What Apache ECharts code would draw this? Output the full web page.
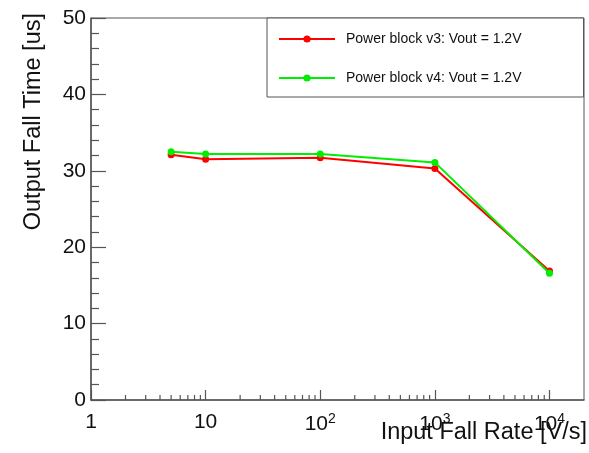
<!DOCTYPE html>
<html>
<head>
<meta charset="utf-8">
<script src="https://cdn.jsdelivr.net/npm/echarts@6/dist/echarts.min.js"></script>
<style>
  html, body { margin: 0; padding: 0; background: #fff; }
  #chart { width: 589px; height: 453px; }
</style>
</head>
<body>
<div id="chart"></div>
<script>
// Input fall rate [V/s] at which each measurement was taken
const fallRates = [5, 10, 100, 1000, 10000];
// Output fall time [us] for each power block revision
const v3FallTime = [32.1, 31.5, 31.7, 30.3, 16.9];
const v4FallTime = [32.5, 32.2, 32.2, 31.1, 16.6];
const seriesNames = ['Power block v3: Vout = 1.2V', 'Power block v4: Vout = 1.2V'];
// Minor tick values on the log axis (2..9 of each decade)
const minorTickVals = [];
for (let d = 1; d <= 10000; d *= 10) {
  for (let m = 2; m <= 9; m++) {
    if (d * m < 20000) minorTickVals.push(d * m);
  }
}

const FONT = '"Liberation Sans", Arial, Helvetica, sans-serif';
const AXIS_COLOR = '#555';

const chart = echarts.init(document.getElementById('chart'), null, { renderer: 'canvas' });

function pairs(xs, ys) { return xs.map((x, i) => [x, ys[i]]); }

chart.setOption({
  animation: false,
  backgroundColor: '#fff',
  grid: {
    left: 91, right: 5, top: 18, bottom: 53,
    outerBoundsMode: 'none',
    containLabel: false,
    show: true, borderColor: AXIS_COLOR, borderWidth: 1, backgroundColor: 'transparent'
  },
  legend: {
    data: seriesNames,
    orient: 'vertical',
    left: 267, top: 18,
    padding: [14, 62, 12, 11],
    itemWidth: 56, itemHeight: 9, itemGap: 25,
    backgroundColor: '#fff',
    borderColor: AXIS_COLOR, borderWidth: 1,
    textStyle: { fontFamily: FONT, fontSize: 14, color: '#111', padding: [0, 0, 0, 6] }
  },
  xAxis: {
    type: 'log', logBase: 10, min: 1, max: 20000,
    name: 'Input Fall Rate [V/s]',
    nameLocation: 'end', nameGap: 3,
    nameMoveOverlap: false,
    nameTextStyle: {
      fontFamily: FONT, fontSize: 23.5, color: '#111',
      align: 'right', verticalAlign: 'top', lineHeight: 23, padding: [21, 0, 0, 0]
    },
    axisLine: { onZero: false, lineStyle: { color: AXIS_COLOR, width: 1.5 } },
    axisTick: { inside: true, length: 10, lineStyle: { color: AXIS_COLOR, width: 1.2 } },
    splitLine: { show: false },
    minorTick: { show: false },
    axisLabel: {
      margin: 12,
      showMaxLabel: false,
      fontFamily: FONT, fontSize: 21, color: '#111',
      formatter: function (v) {
        const p = Math.round(Math.log10(v));
        if (p === 0) return '1';
        if (p === 1) return '10';
        return '10{sup|' + p + '}';
      },
      rich: {
        sup: { fontFamily: FONT, fontSize: 14, color: '#111', verticalAlign: 'top', padding: [0, 0, 10, 0] }
      }
    }
  },
  yAxis: {
    type: 'value', min: 0, max: 50, interval: 10,
    name: 'Output Fall Time [us]',
    nameLocation: 'end', nameRotate: 90, nameGap: 5,
    nameMoveOverlap: false,
    nameTextStyle: {
      fontFamily: FONT, fontSize: 23.5, color: '#111',
      align: 'right', verticalAlign: 'bottom', lineHeight: 23, padding: [0, 0, 46, 0]
    },
    axisLine: { show: true, lineStyle: { color: AXIS_COLOR, width: 1.5 } },
    axisTick: { inside: true, length: 15, lineStyle: { color: AXIS_COLOR, width: 1.2 } },
    minorTick: { show: true, splitNumber: 5, length: 8, lineStyle: { color: AXIS_COLOR, width: 1.2 } },
    splitLine: { show: false },
    axisLabel: { margin: 5, fontFamily: FONT, fontSize: 21, color: '#111' }
  },
  series: [
    {
      name: 'minor-x-ticks',
      type: 'custom',
      silent: true,
      clip: false,
      z: 1,
      data: minorTickVals.map(v => [v, 0]),
      renderItem: function (params, api) {
        const p = api.coord([api.value(0), 0]);
        return {
          type: 'line',
          shape: { x1: p[0], y1: p[1], x2: p[0], y2: p[1] - 5 },
          style: { stroke: AXIS_COLOR, lineWidth: 1.2 }
        };
      }
    },
    {
      name: seriesNames[0],
      type: 'line',
      data: pairs(fallRates, v3FallTime),
      symbol: 'circle', symbolSize: 7,
      itemStyle: { color: '#ff0000' },
      lineStyle: { color: '#ff0000', width: 2 },
      z: 3
    },
    {
      name: seriesNames[1],
      type: 'line',
      data: pairs(fallRates, v4FallTime),
      symbol: 'circle', symbolSize: 7,
      itemStyle: { color: '#00ee00' },
      lineStyle: { color: '#00ee00', width: 2 },
      z: 4
    }
  ]
});
</script>
</body>
</html>
